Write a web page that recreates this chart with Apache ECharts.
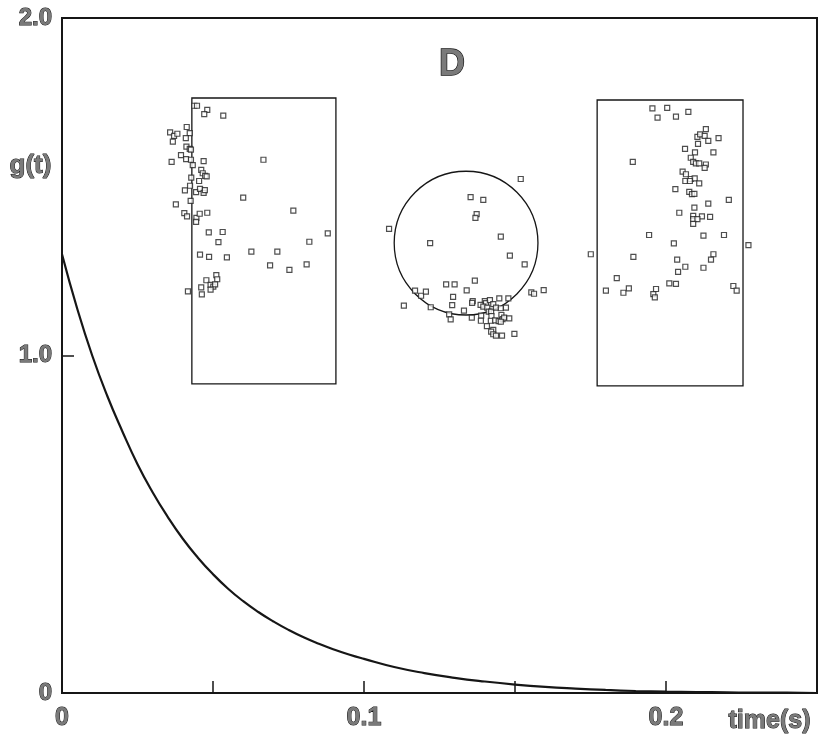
<!DOCTYPE html>
<html>
<head>
<meta charset="utf-8">
<script src="https://cdn.jsdelivr.net/npm/echarts@6/dist/echarts.min.js"></script>
<style>
  html, body { margin: 0; padding: 0; background: #fff; }
  #chart { width: 825px; height: 744px; }
</style>
</head>
<body>
<div id="chart"></div>
<script>
// decay curve g(t)
const curveT = [0, 0.005, 0.01, 0.015, 0.02, 0.025, 0.03, 0.035, 0.04, 0.045, 0.05, 0.055, 0.06, 0.065, 0.07, 0.075, 0.08, 0.085, 0.09, 0.095, 0.1,
  0.11, 0.12, 0.13, 0.14, 0.15, 0.16, 0.17, 0.18, 0.19, 0.2, 0.21, 0.22, 0.23, 0.24, 0.25]
const curveG = [1.30, 1.14, 1.00, 0.88, 0.775, 0.678, 0.595, 0.522, 0.457, 0.401, 0.352, 0.309, 0.272, 0.240, 0.212, 0.187, 0.165, 0.146, 0.129, 0.114, 0.101,
  0.077, 0.059, 0.045, 0.034, 0.025, 0.018, 0.013, 0.009, 0.006, 0.004, 0.003, 0.002, 0.001, 0.001, 0]

// inset frames: [t0, g0, t1, g1] and circle [t, g, radius in t]
const leftFrame = [0.0430, 0.916, 0.0907, 1.763]
const rightFrame = [0.1772, 0.910, 0.2255, 1.757]
const midCircle = [0.1338, 1.333, 0.0238]

// dots [t, g]
const leftDots = [
  [0.0438, 1.740], [0.0447, 1.740], [0.0481, 1.728], [0.0471, 1.715], [0.0534, 1.711], [0.0413, 1.677],
  [0.0358, 1.661], [0.0371, 1.651], [0.0382, 1.657], [0.0423, 1.659], [0.0410, 1.644], [0.0367, 1.634],
  [0.0412, 1.619], [0.0423, 1.612], [0.0427, 1.610], [0.0394, 1.594], [0.0363, 1.574], [0.0411, 1.582],
  [0.0427, 1.580], [0.0433, 1.564], [0.0469, 1.576], [0.0667, 1.580], [0.0461, 1.550], [0.0466, 1.540],
  [0.0474, 1.532], [0.0479, 1.531], [0.0454, 1.517], [0.0428, 1.527], [0.0424, 1.503], [0.0407, 1.489],
  [0.0444, 1.484], [0.0457, 1.494], [0.0469, 1.482], [0.0473, 1.490], [0.0377, 1.448], [0.0426, 1.458],
  [0.0600, 1.468], [0.0766, 1.429], [0.0405, 1.422], [0.0414, 1.412], [0.0445, 1.408], [0.0444, 1.396],
  [0.0456, 1.420], [0.0481, 1.423], [0.0486, 1.365], [0.0532, 1.366], [0.0518, 1.336], [0.0880, 1.362],
  [0.0819, 1.337], [0.0457, 1.299], [0.0487, 1.292], [0.0546, 1.291], [0.0627, 1.308], [0.0713, 1.308],
  [0.0689, 1.267], [0.0753, 1.254], [0.0810, 1.270], [0.0478, 1.223], [0.0511, 1.238], [0.0514, 1.226],
  [0.0492, 1.209], [0.0501, 1.204], [0.0507, 1.211], [0.0492, 1.195], [0.0461, 1.202], [0.0417, 1.190],
  [0.0463, 1.181]
]
const circleDots = [
  [0.1519, 1.523], [0.1353, 1.469], [0.1395, 1.461], [0.1373, 1.419], [0.1369, 1.408], [0.1083, 1.375],
  [0.1219, 1.333], [0.1453, 1.352], [0.1483, 1.296], [0.1532, 1.270], [0.1367, 1.222], [0.1272, 1.211],
  [0.1300, 1.211], [0.1340, 1.193], [0.1169, 1.192], [0.1189, 1.177], [0.1205, 1.189], [0.1554, 1.187],
  [0.1563, 1.183], [0.1595, 1.194], [0.1295, 1.174], [0.1132, 1.148], [0.1221, 1.143], [0.1292, 1.149],
  [0.1360, 1.161], [0.1358, 1.156], [0.1400, 1.161], [0.1404, 1.155], [0.1417, 1.164], [0.1386, 1.150],
  [0.1395, 1.145], [0.1408, 1.142], [0.1428, 1.152], [0.1413, 1.130], [0.1421, 1.130], [0.1448, 1.169],
  [0.1478, 1.169], [0.1437, 1.142], [0.1453, 1.140], [0.1470, 1.142], [0.1331, 1.133], [0.1282, 1.122],
  [0.1287, 1.107], [0.1357, 1.112], [0.1388, 1.118], [0.1387, 1.103], [0.1422, 1.117], [0.1420, 1.103],
  [0.1434, 1.104], [0.1446, 1.102], [0.1455, 1.120], [0.1459, 1.108], [0.1464, 1.112], [0.1453, 1.100],
  [0.1481, 1.110], [0.1407, 1.087], [0.1428, 1.076], [0.1421, 1.071], [0.1428, 1.063], [0.1437, 1.059],
  [0.1457, 1.059], [0.1498, 1.064]
]
const rightDots = [
  [0.1955, 1.732], [0.2004, 1.734], [0.2074, 1.722], [0.1972, 1.705], [0.2033, 1.708], [0.2132, 1.671],
  [0.2104, 1.648], [0.2113, 1.655], [0.2128, 1.651], [0.2174, 1.644], [0.2140, 1.636], [0.2106, 1.627],
  [0.2063, 1.612], [0.2096, 1.602], [0.2157, 1.602], [0.1890, 1.574], [0.2082, 1.586], [0.2090, 1.574],
  [0.2099, 1.569], [0.2110, 1.569], [0.2132, 1.566], [0.2128, 1.556], [0.2055, 1.545], [0.2066, 1.537],
  [0.2082, 1.523], [0.2095, 1.525], [0.2064, 1.517], [0.2079, 1.517], [0.2110, 1.510], [0.2031, 1.493],
  [0.2077, 1.485], [0.2086, 1.478], [0.2094, 1.479], [0.2208, 1.461], [0.2140, 1.450], [0.2094, 1.438],
  [0.2044, 1.423], [0.2090, 1.414], [0.2119, 1.412], [0.2146, 1.411], [0.2090, 1.404], [0.2104, 1.404],
  [0.2090, 1.390], [0.1944, 1.357], [0.2124, 1.355], [0.2192, 1.357], [0.2026, 1.332], [0.2273, 1.327],
  [0.1751, 1.300], [0.2157, 1.300], [0.2149, 1.284], [0.1892, 1.292], [0.2037, 1.284], [0.2064, 1.263],
  [0.2124, 1.260], [0.2040, 1.248], [0.1837, 1.229], [0.2011, 1.214], [0.2033, 1.212], [0.1801, 1.192],
  [0.1859, 1.186], [0.1877, 1.199], [0.1967, 1.197], [0.1958, 1.182], [0.1963, 1.172], [0.2223, 1.206],
  [0.2234, 1.192]
]

const ink = '#161616'
const labelStyle = {
  fontFamily: 'Liberation Sans',
  fontWeight: 'bold',
  color: '#7a7a7a',
  textBorderColor: '#111',
  textBorderWidth: 1
}

const chart = echarts.init(document.getElementById('chart'))

function frameItem(params, api) {
  const a = api.coord([api.value(0), api.value(1)])
  const b = api.coord([api.value(2), api.value(3)])
  return {
    type: 'rect',
    shape: { x: a[0], y: b[1], width: b[0] - a[0], height: a[1] - b[1] },
    style: { fill: 'none', stroke: ink, lineWidth: 1.3 }
  }
}

function circleItem(params, api) {
  const c = api.coord([api.value(0), api.value(1)])
  const r = api.size([api.value(2), 0])[0]
  return {
    type: 'circle',
    shape: { cx: c[0], cy: c[1], r: r },
    style: { fill: 'none', stroke: ink, lineWidth: 1.3 }
  }
}

const dotStyle = { color: '#fff', borderColor: '#222', borderWidth: 1.2 }

chart.setOption({
  animation: false,
  backgroundColor: '#fff',
  title: {
    text: 'D',
    left: 434,
    top: 42,
    textStyle: Object.assign({}, labelStyle, { fontSize: 36, textBorderWidth: 1.3 })
  },
  graphic: [
    { type: 'text', left: 9, top: 152, style: { text: 'g(t)', fill: '#7a7a7a', stroke: '#111', lineWidth: 1, font: 'bold 26px "Liberation Sans"' } },
    { type: 'text', left: 728, top: 708, style: { text: 'time(s)', fill: '#7a7a7a', stroke: '#111', lineWidth: 1, font: 'bold 25px "Liberation Sans"' } }
  ],
  grid: {
    left: 62,
    right: 8,
    top: 18,
    bottom: 51,
    show: true,
    borderColor: ink,
    borderWidth: 2
  },
  xAxis: {
    type: 'value',
    min: 0,
    max: 0.25,
    interval: 0.05,
    splitLine: { show: false },
    axisLine: { lineStyle: { color: ink, width: 2 } },
    axisTick: { inside: true, length: 12, lineStyle: { color: ink, width: 1.5 } },
    axisLabel: Object.assign({}, labelStyle, {
      fontSize: 25,
      margin: 13,
      showMaxLabel: false,
      formatter: (v) => {
        const k = Math.round(v * 100)
        if (k === 0) return '0'
        return k % 10 === 0 ? (k / 100).toFixed(1) : ''
      }
    })
  },
  yAxis: {
    type: 'value',
    min: 0,
    max: 2,
    interval: 1,
    splitLine: { show: false },
    axisLine: { lineStyle: { color: ink, width: 2 } },
    axisTick: { inside: true, length: 12, lineStyle: { color: ink, width: 1.5 } },
    axisLabel: Object.assign({}, labelStyle, {
      fontSize: 24,
      margin: 10,
      formatter: (v) => (v === 0 ? '0' : v.toFixed(1))
    })
  },
  series: [
    {
      type: 'line',
      data: curveT.map((t, i) => [t, curveG[i]]),
      smooth: 0.5,
      showSymbol: false,
      lineStyle: { color: ink, width: 2.2 }
    },
    {
      type: 'custom',
      renderItem: frameItem,
      data: [leftFrame, rightFrame],
      silent: true
    },
    {
      type: 'custom',
      renderItem: circleItem,
      data: [midCircle],
      silent: true
    },
    { type: 'scatter', symbol: 'rect', symbolSize: 5, data: leftDots, itemStyle: dotStyle },
    { type: 'scatter', symbol: 'rect', symbolSize: 5, data: circleDots, itemStyle: dotStyle },
    { type: 'scatter', symbol: 'rect', symbolSize: 5, data: rightDots, itemStyle: dotStyle }
  ]
})
</script>
</body>
</html>
